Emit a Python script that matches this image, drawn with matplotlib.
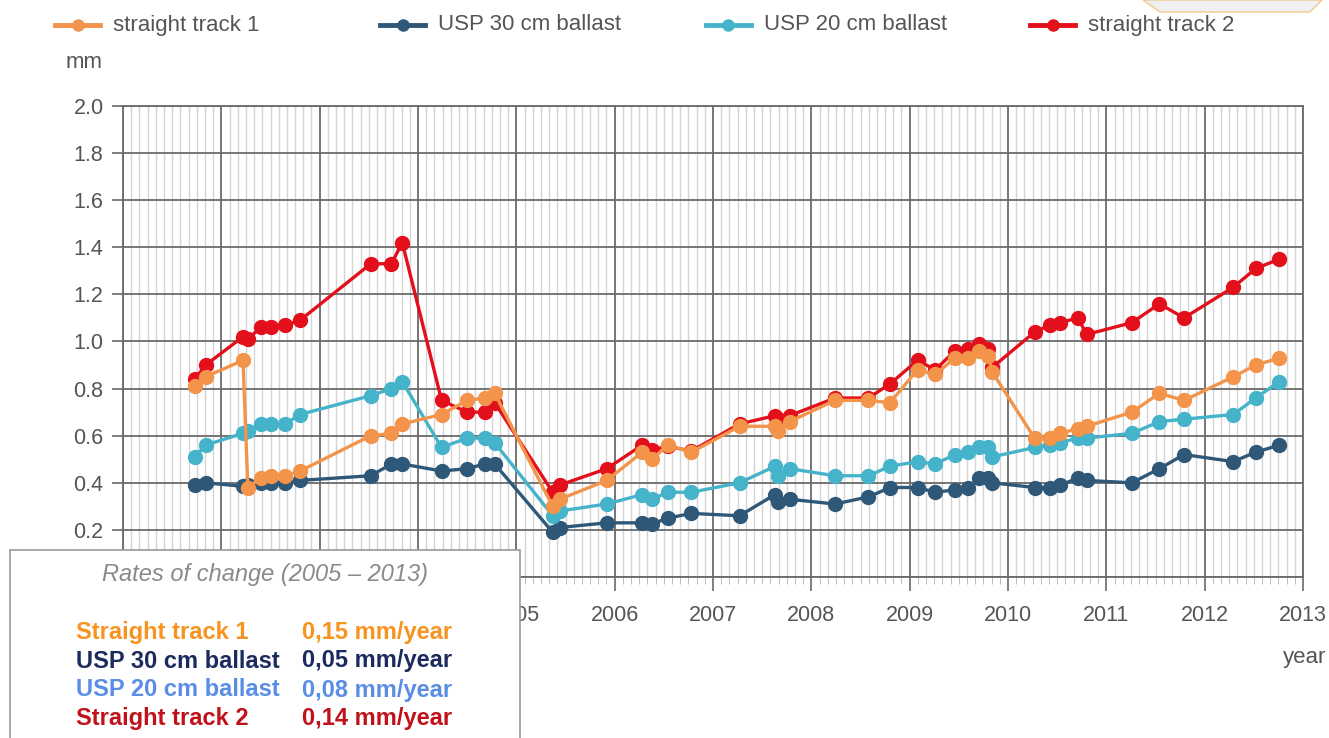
import matplotlib
matplotlib.use('Agg')
import matplotlib.pyplot as plt
from matplotlib.ticker import MultipleLocator, FormatStrFormatter, FuncFormatter
from matplotlib.patches import Rectangle, Polygon
from matplotlib.lines import Line2D

plt.rcParams['font.family'] = ['Liberation Sans', 'DejaVu Sans']

# measurement dates (decimal years)
dates = [2001.73, 2001.84, 2002.22, 2002.27, 2002.40, 2002.51, 2002.65, 2002.80,
         2003.52, 2003.73, 2003.84, 2004.24, 2004.50, 2004.68, 2004.78,
         2005.37, 2005.44, 2005.92, 2006.28, 2006.38, 2006.54, 2006.78, 2007.27,
         2007.63, 2007.66, 2007.78, 2008.24, 2008.58, 2008.80,
         2009.08, 2009.26, 2009.46, 2009.59, 2009.71, 2009.80, 2009.84,
         2010.27, 2010.43, 2010.53, 2010.71, 2010.80, 2011.26, 2011.54, 2011.79,
         2012.29, 2012.52, 2012.76]

track1 = [0.81, 0.85, 0.92, 0.38, 0.42, 0.43, 0.43, 0.45, 0.60, 0.61, 0.65, 0.69, 0.75, 0.76, 0.78,
          0.30, 0.33, 0.41, 0.53, 0.50, 0.56, 0.53, 0.64,
          0.64, 0.62, 0.66, 0.75, 0.75, 0.74,
          0.88, 0.86, 0.93, 0.93, 0.96, 0.94, 0.87,
          0.59, 0.59, 0.61, 0.63, 0.64, 0.70, 0.78, 0.75, 0.85, 0.90, 0.93]

usp30 = [0.39, 0.40, 0.385, 0.39, 0.40, 0.40, 0.40, 0.41, 0.43, 0.48, 0.48, 0.45, 0.46, 0.48, 0.48,
         0.19, 0.21, 0.23, 0.23, 0.225, 0.25, 0.27, 0.26,
         0.35, 0.32, 0.33, 0.31, 0.34, 0.38,
         0.38, 0.36, 0.37, 0.38, 0.42, 0.42, 0.40,
         0.38, 0.38, 0.39, 0.42, 0.41, 0.40, 0.46, 0.52, 0.49, 0.53, 0.56]

usp20 = [0.51, 0.56, 0.61, 0.62, 0.65, 0.65, 0.65, 0.69, 0.77, 0.80, 0.83, 0.55, 0.59, 0.59, 0.57,
         0.26, 0.28, 0.31, 0.35, 0.33, 0.36, 0.36, 0.40,
         0.47, 0.43, 0.46, 0.43, 0.43, 0.47,
         0.49, 0.48, 0.52, 0.53, 0.55, 0.55, 0.51,
         0.55, 0.56, 0.57, 0.59, 0.59, 0.61, 0.66, 0.67, 0.69, 0.76, 0.83]

track2 = [0.84, 0.90, 1.02, 1.01, 1.06, 1.06, 1.07, 1.09, 1.33, 1.33, 1.42, 0.75, 0.70, 0.70, 0.74,
          0.36, 0.39, 0.46, 0.56, 0.54, 0.555, 0.535, 0.65,
          0.685, 0.67, 0.685, 0.76, 0.76, 0.82,
          0.92, 0.88, 0.96, 0.97, 0.99, 0.97, 0.89,
          1.04, 1.07, 1.08, 1.10, 1.03, 1.08, 1.16, 1.10, 1.23, 1.31, 1.35]

series_names = ['straight track 1', 'USP 30 cm ballast', 'USP 20 cm ballast', 'straight track 2']
series_colors = ['#f3944a', '#2f5878', '#45b3ca', '#e3101c']

rate_labels = ['Straight track 1', 'USP 30 cm ballast', 'USP 20 cm ballast', 'Straight track 2']
rate_values = ['0,15 mm/year', '0,05 mm/year', '0,08 mm/year', '0,14 mm/year']
rate_colors = ['#f7931e', '#1b2b5e', '#5a8ee6', '#c0121b']

W, H = 1329, 738
fig = plt.figure(figsize=(W / 100, H / 100), dpi=100)
ax = fig.add_axes([123 / W, 1 - 577 / H, (1303 - 123) / W, (577 - 106) / H])

# draw order: red first, orange on top
data = {0: track1, 1: usp30, 2: usp20, 3: track2}
for i, z in zip([3, 1, 2, 0], [3, 4, 5, 6]):
    ax.plot(dates, data[i], '-o', color=series_colors[i], lw=2.4, ms=10,
            mec=series_colors[i], zorder=z)

ax.set_xlim(2001, 2013)
ax.set_ylim(0, 2.0)
ax.xaxis.set_major_locator(MultipleLocator(1))
ax.xaxis.set_minor_locator(MultipleLocator(1 / 12))
ax.yaxis.set_major_locator(MultipleLocator(0.2))
ax.yaxis.set_major_formatter(FormatStrFormatter('%.1f'))
# years before 2005 sit fully under the rates box
ax.xaxis.set_major_formatter(FuncFormatter(lambda v, p: '%d' % round(v) if v > 2004.5 else ''))

ax.set_axisbelow(True)
ax.grid(which='minor', axis='x', color='#d4d4d4', lw=1.0)
ax.grid(which='major', color='#6a6a6a', lw=1.3)
for s in ax.spines.values():
    s.set_color('#6a6a6a')
    s.set_linewidth(1.3)

ax.tick_params(axis='both', which='major', labelsize=15.5, colors='#6a6a6a',
               labelcolor='#555555', width=1.2)
ax.tick_params(axis='x', which='major', length=10, pad=10)
ax.tick_params(axis='x', which='minor', length=5, color='#b0b0b0')
ax.tick_params(axis='y', which='major', length=8, pad=6)

# legend drawn by hand at the top
leg_x = [55, 380, 706, 1030]
for x0, name, c in zip(leg_x, series_names, series_colors):
    fig.add_artist(Line2D([x0 / W, (x0 + 45) / W], [1 - 25 / H] * 2, color=c, lw=3.5))
    fig.add_artist(Line2D([(x0 + 22.5) / W], [1 - 25 / H], marker='o', ms=8, color=c))
    fig.text((x0 + 58) / W, 1 - 25 / H, name, fontsize=16, color='#555555', va='center')

fig.text(84 / W, 1 - 62 / H, 'mm', fontsize=16, color='#555555', ha='center', va='center')
fig.text(1305 / W, 1 - 657 / H, 'year', fontsize=16, color='#555555', ha='center', va='center')

# little shape cut off at the top right corner
hexa = Polygon([(1143 / W, 1.0), (1160 / W, 1 - 12 / H), (1310 / W, 1 - 12 / H), (1322 / W, 1.0)],
               closed=True, transform=fig.transFigure, facecolor='#eef0f2',
               edgecolor='#f3c98d', lw=1, zorder=10)
fig.add_artist(hexa)

# rates of change box
box = Rectangle((10 / W, -0.02), (520 - 10) / W, (738 - 550) / H + 0.02,
                transform=fig.transFigure, facecolor='white', edgecolor='#9a9a9a',
                lw=1.2, zorder=20)
fig.add_artist(box)
fig.text(265 / W, 1 - 575 / H, 'Rates of change (2005 \u2013 2013)', fontsize=17,
         style='italic', color='#8a8a8a', ha='center', va='center', zorder=21)
for k, (lab, val, c) in enumerate(zip(rate_labels, rate_values, rate_colors)):
    yy = 1 - (632 + 29 * k) / H
    fig.text(76 / W, yy, lab, fontsize=17, fontweight='bold', color=c, va='center', zorder=21)
    fig.text(302 / W, yy, val, fontsize=17, fontweight='bold', color=c, va='center', zorder=21)

fig.savefig('out.png', dpi=100)
